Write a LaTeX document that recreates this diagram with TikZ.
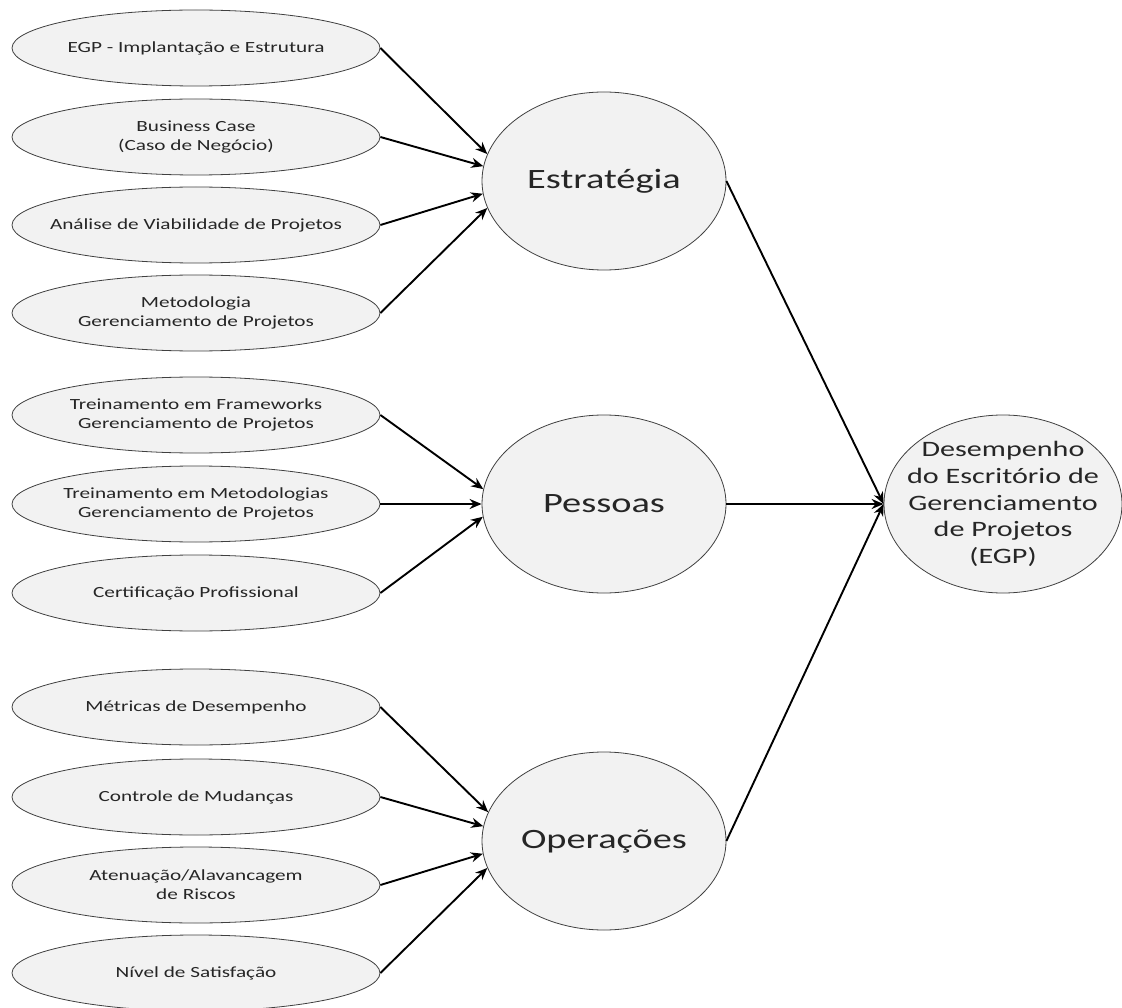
\documentclass[tikz,border=0pt]{standalone}
\usepackage{fontspec}
\setmainfont{Carlito}[FakeStretch=1.37]
\usetikzlibrary{shapes.geometric,arrows.meta}

\definecolor{preenchimento}{HTML}{F2F2F2}
\definecolor{contorno}{HTML}{404040}
\definecolor{texto}{HTML}{262626}

\begin{document}
\begin{tikzpicture}[x=1pt,y=-1pt,
    fator/.style={ellipse, draw=contorno, fill=preenchimento, line width=0.8pt,
        text=texto, align=center, inner xsep=-50pt, inner ysep=0pt,
        minimum width=368pt, minimum height=76pt,
        font=\fontsize{15.5}{19}\selectfont},
    dimensao/.style={ellipse, draw=contorno, fill=preenchimento, line width=0.8pt,
        text=texto, align=center, inner sep=0pt,
        minimum width=244pt, minimum height=178pt,
        font=\fontsize{28}{34}\selectfont},
    resultado/.style={dimensao, inner xsep=-30pt, inner ysep=-15pt, minimum width=238pt,
        font=\fontsize{22}{26.7}\selectfont},
    seta/.style={-{Stealth[length=12pt,width=10pt]}, line width=1.9pt}]

    \useasboundingbox (0,0) rectangle (1122,1008);

    % Dimensions
    \node[dimensao] (estrategia) at (604,181) {Estratégia};
    \node[dimensao] (pessoas) at (604,504) {Pessoas};
    \node[dimensao] (operacoes) at (604,841) {Operações};

    % Result
    \node[resultado] (desempenho) at (1003,504) {Desempenho\\do Escritório de\\Gerenciamento\\de Projetos\\(EGP)};

    % Factors on the left
    \foreach \nome/\yy/\rotulo in {
        egp/48/{EGP - Implantação e Estrutura},
        bcase/137/{Business Case\\(Caso de Negócio)},
        viabilidade/225/{Análise de Viabilidade de Projetos},
        metodologia/313/{Metodologia\\Gerenciamento de Projetos},
        frameworks/415/{Treinamento em Frameworks\\Gerenciamento de Projetos},
        metodologias/504/{Treinamento em Metodologias\\Gerenciamento de Projetos},
        certificacao/593/{Certificação Profissional},
        metricas/707/{Métricas de Desempenho},
        mudancas/797/{Controle de Mudanças},
        riscos/885/{Atenuação/Alavancagem\\de Riscos},
        satisfacao/973/{Nível de Satisfação}} {
        \node[fator] (\nome) at (196,\yy) {\rotulo};
    }

    % Arrows into the dimensions
    \foreach \nome/\ang in {egp/167, bcase/173.5, viabilidade/186.5, metodologia/193}
        \draw[seta] (\nome.east) -- (estrategia.\ang);
    \foreach \nome/\ang in {frameworks/173.5, metodologias/180, certificacao/186.5}
        \draw[seta] (\nome.east) -- (pessoas.\ang);
    \foreach \nome/\ang in {metricas/166, mudancas/173.5, riscos/186.5, satisfacao/193}
        \draw[seta] (\nome.east) -- (operacoes.\ang);

    % Arrows into the result
    \foreach \nome in {estrategia, pessoas, operacoes}
        \draw[seta] (\nome.east) -- (desempenho.west);
\end{tikzpicture}
\end{document}
